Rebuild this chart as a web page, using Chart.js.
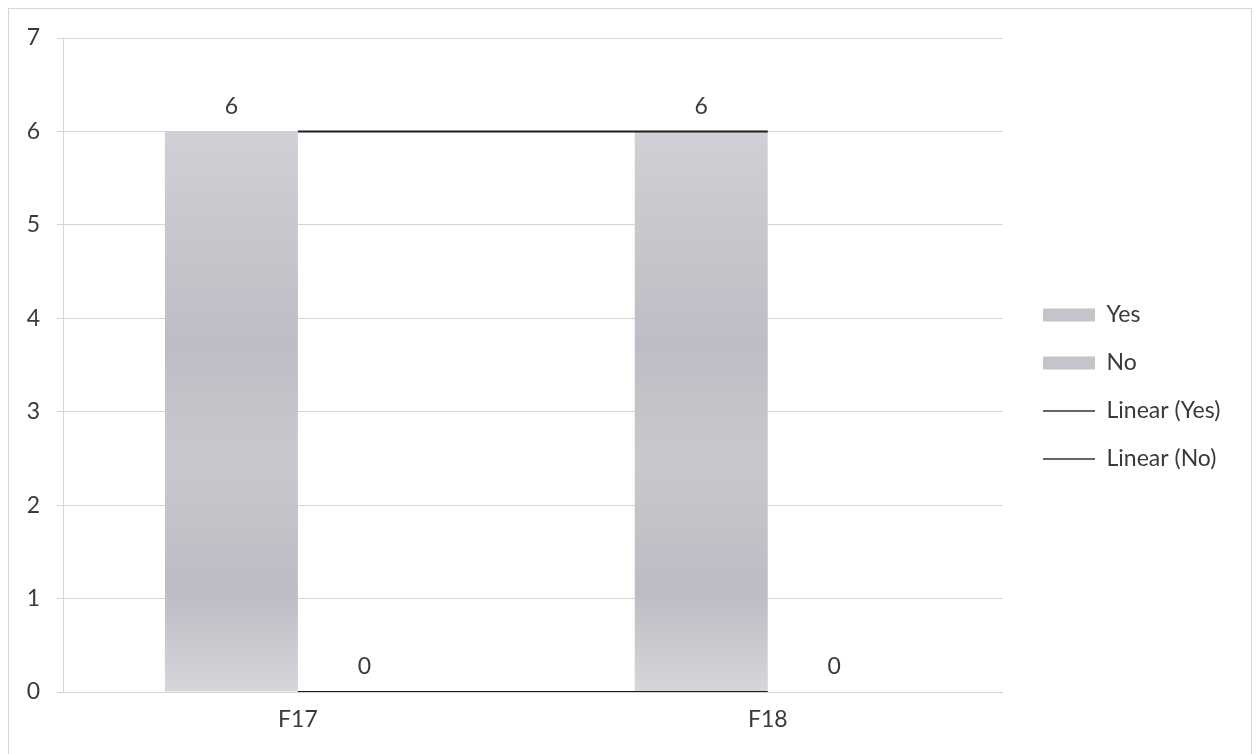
<!DOCTYPE html>
<html lang="en">
<head>
    <meta charset="UTF-8">
    <title>Yes / No - F17, F18</title>
    <script src="https://cdn.jsdelivr.net/npm/chart.js@4.4.1/dist/chart.umd.min.js"></script>
    <style>
        html, body { margin: 0; padding: 0; background: #fff; }
    </style>
</head>
<body>
    <canvas id="chart" width="1256" height="754"></canvas>
    <script>
        // chart values
        const categories = ['F17', 'F18'];
        const yesValues = [6, 6];
        const noValues = [0, 0];
        const yesTrend = [6, 6];
        const noTrend = [0, 0];
        const yTicks = [0, 1, 2, 3, 4, 5, 6, 7];
        const seriesNames = ['Yes', 'No', 'Linear (Yes)', 'Linear (No)'];

        const FONT = 'Lato, "Open Sans", sans-serif';
        const FONT_SIZE = 23;
        const TEXT = '#3a3a3a';
        const GRID = '#d4d4d4';
        const LEGEND_PAD = 25;
        const LEGEND_BOX = 52;

        // scanned grey bars: light at the ends, darker bands in between
        function barFill(context) {
            const chart = context.chart;
            if (!chart.chartArea) return '#c4c4ca';
            const y = chart.scales.y;
            const g = chart.ctx.createLinearGradient(0, y.getPixelForValue(Math.max(...yesValues)), 0, y.getPixelForValue(0));
            g.addColorStop(0, '#d0d0d6');
            g.addColorStop(0.15, '#c8c8ce');
            g.addColorStop(0.38, '#bdbdc5');
            g.addColorStop(0.58, '#c8c8ce');
            g.addColorStop(0.82, '#bcbcc4');
            g.addColorStop(1, '#d6d6db');
            return g;
        }

        // legend width so that the plot ends near x=1003
        const measure = document.createElement('canvas').getContext('2d');
        measure.font = FONT_SIZE + 'px ' + FONT;
        const longest = Math.max(...seriesNames.map(s => measure.measureText(s).width));
        const legendWidth = LEGEND_PAD + LEGEND_BOX + FONT_SIZE / 2 + longest;
        const rightPad = Math.max(0, Math.round(1256 - 1013 - legendWidth));

        const pageFrame = {
            id: 'pageFrame',
            beforeDraw(chart) {
                const ctx = chart.ctx;
                ctx.save();
                ctx.strokeStyle = '#d6d6d6';
                ctx.lineWidth = 1;
                ctx.strokeRect(8.5, 8.5, 1243, 780);
                ctx.restore();
            }
        };

        const valueLabels = {
            id: 'valueLabels',
            afterDatasetsDraw(chart) {
                const ctx = chart.ctx;
                ctx.save();
                ctx.font = FONT_SIZE + 'px ' + FONT;
                ctx.fillStyle = TEXT;
                ctx.textAlign = 'center';
                ctx.textBaseline = 'middle';
                chart.data.datasets.forEach((ds, i) => {
                    if (ds.type !== 'bar') return;
                    chart.getDatasetMeta(i).data.forEach((bar, j) => {
                        ctx.fillText(ds.data[j], bar.x, bar.y - 25);
                    });
                });
                ctx.restore();
            }
        };

        // move legend so the boxes start around x=1043
        const legendNudge = {
            id: 'legendNudge',
            afterLayout(chart) {
                const lg = chart.legend;
                const dx = 1043 - LEGEND_PAD - lg.left;
                lg.left += dx; lg.right += dx;
                lg.top -= 9; lg.bottom -= 9;
            }
        };

        new Chart(document.getElementById('chart'), {
            data: {
                labels: categories,
                datasets: [{
                    type: 'bar',
                    label: seriesNames[0],
                    data: yesValues,
                    backgroundColor: barFill,
                    order: 1
                }, {
                    type: 'bar',
                    label: seriesNames[1],
                    data: noValues,
                    backgroundColor: barFill,
                    order: 1
                }, {
                    type: 'line',
                    label: seriesNames[2],
                    data: yesTrend,
                    borderColor: '#1e1e1e',
                    borderWidth: 2,
                    pointRadius: 0,
                    fill: false,
                    order: 0
                }, {
                    type: 'line',
                    label: seriesNames[3],
                    data: noTrend,
                    borderColor: '#1e1e1e',
                    borderWidth: 2,
                    pointRadius: 0,
                    fill: false,
                    order: 0
                }]
            },
            options: {
                responsive: false,
                animation: false,
                layout: {
                    padding: { top: 38, left: 0, right: rightPad, bottom: 0 }
                },
                datasets: {
                    bar: {
                        categoryPercentage: 0.566,
                        barPercentage: 1
                    }
                },
                scales: {
                    x: {
                        grid: { display: false, drawTicks: false },
                        border: { color: GRID },
                        ticks: {
                            color: TEXT,
                            padding: 14,
                            font: { family: FONT, size: FONT_SIZE }
                        },
                        afterFit(scale) { scale.height = 62; }
                    },
                    y: {
                        min: yTicks[0],
                        max: yTicks[yTicks.length - 1],
                        grid: { color: GRID, tickLength: 6 },
                        border: { color: GRID },
                        ticks: {
                            stepSize: 1,
                            color: TEXT,
                            padding: 17,
                            font: { family: FONT, size: FONT_SIZE }
                        },
                        afterFit(scale) { scale.width = 63; }
                    }
                },
                plugins: {
                    tooltip: { enabled: false },
                    legend: {
                        position: 'right',
                        labels: {
                            color: TEXT,
                            font: { family: FONT, size: FONT_SIZE },
                            padding: LEGEND_PAD,
                            usePointStyle: true,
                            pointStyleWidth: LEGEND_BOX,
                            boxHeight: 13,
                            generateLabels(chart) {
                                return chart.data.datasets.map((ds, i) => ({
                                    text: ds.label,
                                    fillStyle: ds.type === 'line' ? 'rgba(0,0,0,0)' : '#c4c4ca',
                                    strokeStyle: ds.type === 'line' ? '#333' : 'rgba(0,0,0,0)',
                                    lineWidth: ds.type === 'line' ? 1.5 : 0,
                                    pointStyle: ds.type === 'line' ? 'line' : 'rect',
                                    fontColor: TEXT,
                                    hidden: false,
                                    datasetIndex: i
                                }));
                            }
                        }
                    }
                }
            },
            plugins: [pageFrame, valueLabels, legendNudge]
        });
    </script>
</body>
</html>
